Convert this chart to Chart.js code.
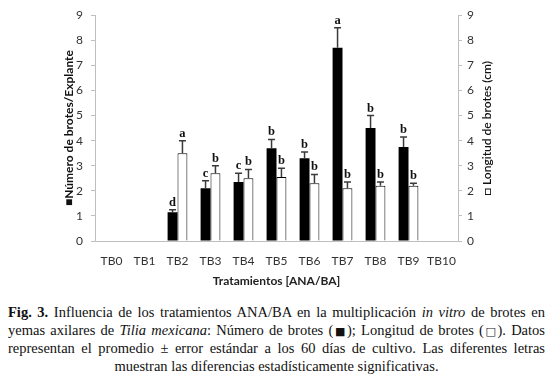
<!DOCTYPE html>
<html>
<head>
<meta charset="utf-8">
<script src="https://cdn.jsdelivr.net/npm/chart.js@4.4.1/dist/chart.umd.min.js"></script>
<style>
    body { margin: 0; background: #fff; width: 552px; height: 387px; overflow: hidden; }
    #wrap { position: absolute; left: 0; top: 0; width: 552px; height: 292px; }
    .cap { position: absolute; left: 8px; width: 537px; font-family: "Liberation Serif", "Times New Roman", Times, serif;
           font-size: 14.5px; color: #111; white-space: nowrap; text-align: justify; text-align-last: justify; line-height: 18px; }
    .cap.last { text-align-last: center; text-align: center; }
    .sym { font-family: "DejaVu Sans", sans-serif; font-size: 11px; }
</style>
</head>
<body>
<div id="wrap"><canvas id="_brotesGraph" width="552" height="292"></canvas></div>
<div class="cap" style="top:303px"><b>Fig. 3.</b> Influencia de los tratamientos ANA/BA en la multiplicación <i>in vitro</i> de brotes en</div>
<div class="cap" style="top:321px">yemas axilares de <i>Tilia mexicana</i>: Número de brotes (<span class="sym">■</span>); Longitud de brotes (<span class="sym">□</span>). Datos</div>
<div class="cap" style="top:339px">representan el promedio ± error estándar a los 60 días de cultivo. Las diferentes letras</div>
<div class="cap last" style="top:357px">muestran las diferencias estadísticamente significativas.</div>
<script>
const categories = ['TB0', 'TB1', 'TB2', 'TB3', 'TB4', 'TB5', 'TB6', 'TB7', 'TB8', 'TB9', 'TB10'];

// Número de brotes/Explante (black bars, left axis)
const numBrotes = [null, null, 1.15, 2.1, 2.35, 3.7, 3.3, 7.7, 4.5, 3.75, null];
const numBrotesErr = [null, null, 0.1, 0.3, 0.35, 0.35, 0.25, 0.8, 0.5, 0.4, null];
const numBrotesLetters = ['', '', 'd', 'c', 'c', 'b', 'b', 'a', 'b', 'b', ''];

// Longitud de brotes (cm) (white bars, right axis)
const longBrotes = [null, null, 3.5, 2.7, 2.5, 2.55, 2.3, 2.1, 2.2, 2.2, null];
const longBrotesErr = [null, null, 0.5, 0.3, 0.35, 0.35, 0.35, 0.25, 0.15, 0.1, null];
const longBrotesLetters = ['', '', 'a', 'b', 'b', 'b', 'b', 'b', 'b', 'b', ''];

const axisMin = 0;
const axisMax = 9;

const rightTitle = '□ Longitud de brotes (cm)';

const tickFont = { family: 'Lato', size: 12 };

const errorBars = {
    id: 'errorBars',
    afterDatasetsDraw(chart) {
        const { ctx } = chart;
        ctx.save();
        chart.data.datasets.forEach((ds, i) => {
            const meta = chart.getDatasetMeta(i);
            const scale = chart.scales[meta.yAxisID];
            meta.data.forEach((bar, j) => {
                const v = ds.data[j];
                if (v === null) return;
                const top = scale.getPixelForValue(v + ds.errors[j]);
                // error line
                ctx.strokeStyle = '#3a3a3a';
                ctx.lineWidth = 1.5;
                ctx.beginPath();
                ctx.moveTo(bar.x, bar.y);
                ctx.lineTo(bar.x, top);
                ctx.moveTo(bar.x - 3.5, top);
                ctx.lineTo(bar.x + 3.5, top);
                ctx.stroke();
                // letter
                ctx.fillStyle = '#111';
                ctx.font = 'bold 12.5px "Liberation Serif", "Times New Roman", serif';
                ctx.textAlign = 'center';
                ctx.textBaseline = 'bottom';
                ctx.fillText(ds.letters[j], bar.x, top - 1);
            });
        });
        ctx.restore();
    }
};

// right axis title reads bottom-to-top like the left one
const rightAxisTitle = {
    id: 'rightAxisTitle',
    afterDraw(chart) {
        const { ctx, chartArea } = chart;
        const s = chart.scales.y1;
        ctx.save();
        ctx.translate(s.right - 11, (chartArea.top + chartArea.bottom) / 2);
        ctx.rotate(-Math.PI / 2);
        ctx.fillStyle = '#111';
        ctx.font = '600 12px Lato';
        ctx.textAlign = 'center';
        ctx.textBaseline = 'middle';
        ctx.fillText(rightTitle, 0, 0);
        ctx.restore();
    }
};

const data = {
    labels: categories,
    datasets: [
        {
            label: 'Número de brotes',
            data: numBrotes,
            errors: numBrotesErr,
            letters: numBrotesLetters,
            backgroundColor: '#000',
            borderColor: '#000',
            borderWidth: 0,
            yAxisID: 'y'
        },
        {
            label: 'Longitud de brotes',
            data: longBrotes,
            errors: longBrotesErr,
            letters: longBrotesLetters,
            backgroundColor: '#fff',
            borderColor: '#000',
            borderWidth: 1,
            borderSkipped: 'bottom',
            yAxisID: 'y1'
        }
    ]
};

const config = {
    type: 'bar',
    data: data,
    options: {
        responsive: false,
        animation: false,
        barPercentage: 1.0,
        categoryPercentage: 0.6,
        layout: {
            padding: { left: 58, right: 54, top: 12, bottom: 0 }
        },
        plugins: {
            legend: { display: false },
            tooltip: { enabled: false }
        },
        scales: {
            x: {
                grid: { display: false, drawTicks: false },
                border: { color: '#bfbfbf', width: 1 },
                ticks: { color: '#333', font: tickFont, padding: 13, maxRotation: 0, minRotation: 0, autoSkip: false },
                title: {
                    display: true,
                    text: 'Tratamientos [ANA/BA]',
                    color: '#222',
                    font: { family: 'Lato', size: 12, weight: 'bold' },
                    padding: { top: 4, bottom: 4 }
                },
                afterFit(scale) { scale.height = 51; }
            },
            y: {
                position: 'left',
                min: axisMin,
                max: axisMax,
                grid: { drawOnChartArea: false, tickLength: 4, color: '#bfbfbf' },
                border: { color: '#bfbfbf', width: 1 },
                ticks: { stepSize: 1, color: '#333', font: tickFont, padding: 8 },
                title: {
                    display: true,
                    text: '■Número de brotes/Explante',
                    color: '#111',
                    font: { family: 'Lato', size: 12, weight: 'bold' },
                    padding: { top: 4, bottom: 4 }
                },
                afterFit(scale) { scale.width = 37; }
            },
            y1: {
                position: 'right',
                min: axisMin,
                max: axisMax,
                grid: { drawOnChartArea: false, tickLength: 4, color: '#bfbfbf' },
                border: { color: '#bfbfbf', width: 1 },
                ticks: { stepSize: 1, color: '#333', font: tickFont, padding: 5 },
                afterFit(scale) { scale.width = 40; }
            }
        }
    },
    plugins: [errorBars, rightAxisTitle]
};

new Chart(document.getElementById('_brotesGraph'), config);
</script>
</body>
</html>
